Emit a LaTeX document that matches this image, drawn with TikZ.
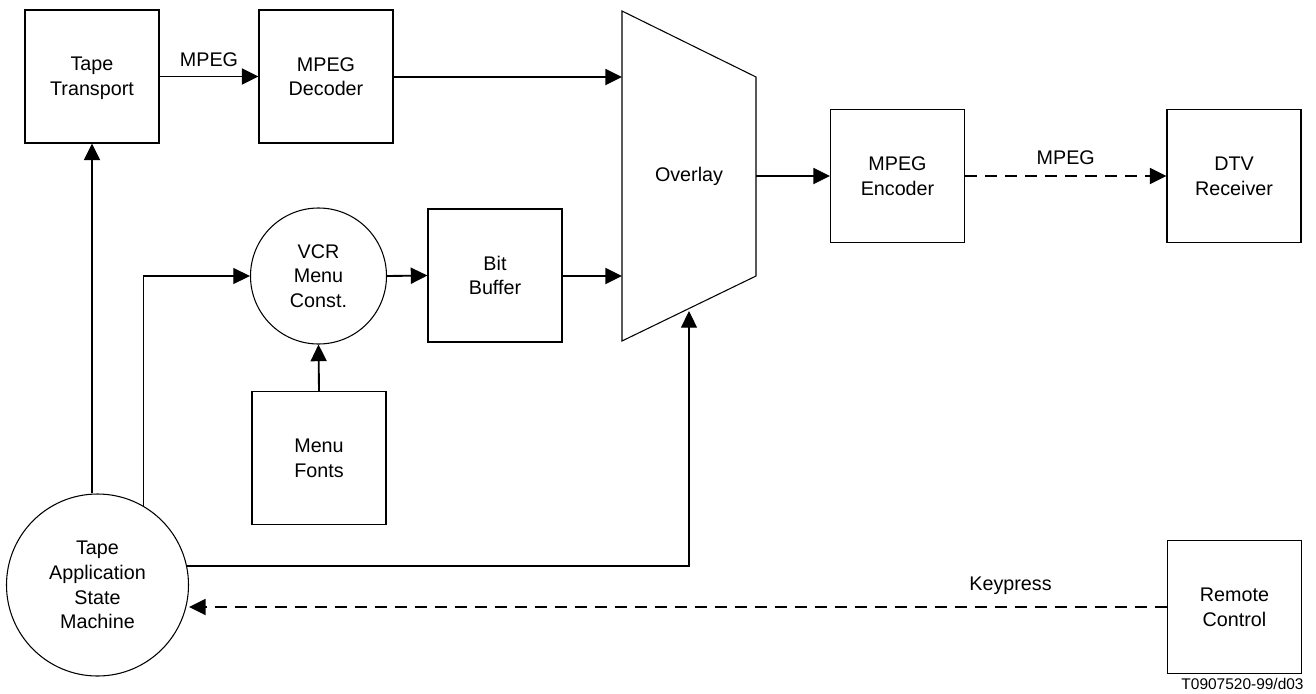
\documentclass[tikz,border=0pt]{standalone}
\usepackage{fontspec}
\setmainfont{Liberation Sans}
\usetikzlibrary{arrows.meta}
\begin{document}
\begin{tikzpicture}[x=0.75pt,y=-0.75pt,
  every node/.style={font=\fontsize{14.8}{18.5}\selectfont, align=center, inner sep=0pt, text depth=0pt},
  blk/.style={draw, line width=0.8pt, minimum width=100.5pt, minimum height=99.75pt},
  circ/.style={draw, circle, line width=0.8pt},
  tip/.style={-{Triangle[length=12.5pt,width=12pt]}},
  conn/.style={line width=1.4pt, tip},
  thinconn/.style={line width=0.8pt, tip},
  dashconn/.style={line width=1.4pt, dash pattern=on 9pt off 6pt, tip},
  lbl/.style={font=\fontsize{14.8}{18.5}\selectfont}]
\useasboundingbox (0,0) rectangle (1316,693);

% nodes
\node[blk] (tt) at (92,76.5) {Tape\\Transport};
\node[blk] (dec) at (326,76.5) {MPEG\\Decoder};
\node[blk] (bb) at (495,275.5) {Bit\\Buffer};
\node[circ, minimum size=102pt] (vcr) at (318.5,276) {VCR\\Menu\\Const.};
\node[blk] (mf) at (319,458) {Menu\\Fonts};
\node[circ, minimum size=136.5pt] (tasm) at (97.5,585) {Tape\\Application\\State\\Machine};
\node[blk] (enc) at (897.5,176) {MPEG\\Encoder};
\node[blk] (dtv) at (1234,176) {DTV\\Receiver};
\node[blk] (rc) at (1234.5,607) {Remote\\Control};

% overlay trapezoid
\coordinate (ovtl) at (622,11);
\coordinate (ovtr) at (756,77);
\coordinate (ovbr) at (756,276);
\coordinate (ovbl) at (622,341);
\draw[line width=0.8pt] (ovtl) -- (ovtr) -- (ovbr) -- (ovbl) -- cycle;
\node (ov) at (689,174) {Overlay};
\coordinate (ovin1) at (622,77);
\coordinate (ovin2) at (622,276);
\coordinate (ovout) at (756,176);
\coordinate (ovbot) at (689,311);

% connectors
\draw[conn] (tt.east) -- node[lbl, midway, above=6.5pt] (l1) {MPEG} (dec.west);
\draw[conn] (dec.east |- ovin1) -- (ovin1);
\draw[conn] (tt.south |- tasm.north) -- (tt.south);
\draw[thinconn] (tasm.60) |- (vcr.west);
\draw[conn] (vcr.east) -- (bb.west);
\draw[conn] (bb.east |- ovin2) -- (ovin2);
\draw[conn] (mf.north) -- (vcr.south);
\draw[thinconn] (tasm.12) -| (ovbot);
\draw[conn] (ovout) -- (enc.west);
\draw[dashconn] (enc.east) -- node[lbl, midway, above=8pt] (l2) {MPEG} (dtv.west);
\draw[dashconn] (rc.west) -- node[lbl, pos=0.16, above=12pt] (l3) {Keypress} (tasm.east |- rc.west);

\node[font=\fontsize{11.6}{14}\selectfont] (code) at (1242.5,684) {T0907520-99/d03};
\end{tikzpicture}
\end{document}
